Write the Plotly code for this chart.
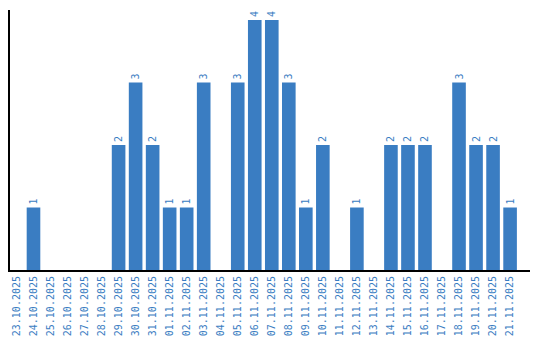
import plotly.graph_objects as go

dates = ["23.10.2025", "24.10.2025", "25.10.2025", "26.10.2025", "27.10.2025", "28.10.2025",
         "29.10.2025", "30.10.2025", "31.10.2025", "01.11.2025", "02.11.2025", "03.11.2025",
         "04.11.2025", "05.11.2025", "06.11.2025", "07.11.2025", "08.11.2025", "09.11.2025",
         "10.11.2025", "11.11.2025", "12.11.2025", "13.11.2025", "14.11.2025", "15.11.2025",
         "16.11.2025", "17.11.2025", "18.11.2025", "19.11.2025", "20.11.2025", "21.11.2025"]
counts = [0, 1, 0, 0, 0, 0, 2, 3, 2, 1, 1, 3, 0, 3, 4, 4, 3, 1, 2, 0, 1, 0, 2, 2, 2, 0, 3, 2, 2, 1]

color = "#3a7dc2"
font = "DejaVu Sans Mono"

fig = go.Figure(go.Bar(
    x=dates, y=counts,
    marker=dict(color=color, line=dict(width=0)),
    width=0.8,
    text=[str(v) if v else "" for v in counts],
    textposition="outside",
    textangle=-90,
    textfont=dict(family=font, size=10, color=color),
    cliponaxis=False,
))

fig.update_layout(
    width=540, height=340,
    margin=dict(l=10, r=10, t=10, b=70, autoexpand=False),
    plot_bgcolor="white", paper_bgcolor="white",
    showlegend=False,
    bargap=0.2,
    xaxis=dict(type="category", range=[-0.38, 30.17], showline=True, linecolor="black", linewidth=2,
               showgrid=False, ticks="", tickangle=-90, automargin=False,
               tickfont=dict(family=font, size=10, color=color)),
    yaxis=dict(range=[0, 4.16], showline=True, linecolor="black", linewidth=2,
               showgrid=False, zeroline=False, showticklabels=False, ticks="", automargin=False),
)

fig.write_html("out.html")
